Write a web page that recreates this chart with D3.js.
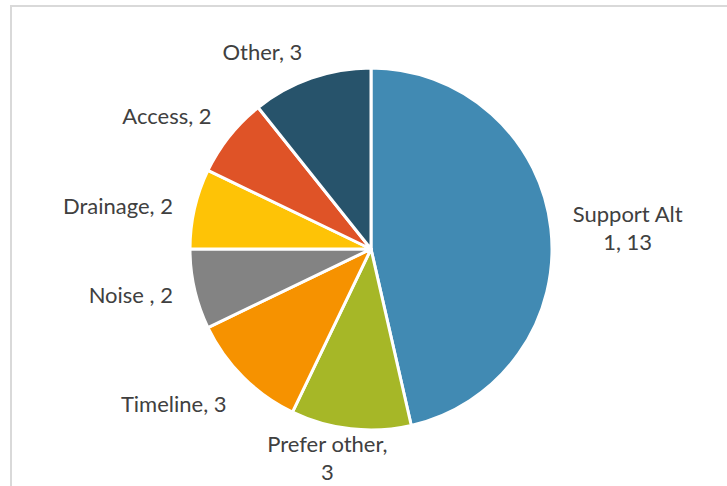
<!DOCTYPE html>
<html>
<head>
<meta charset="utf-8">
<script src="https://cdn.jsdelivr.net/npm/d3@7"></script>
<style>
  html, body { margin: 0; padding: 0; background: #fff; }
  svg { display: block; }
  text { font-family: Lato, "Open Sans", sans-serif; fill: #404040; }
</style>
</head>
<body>
<svg id="chart" width="727" height="486"></svg>
<script>
// ---- data ----
const categories = ["Support Alt 1", "Prefer other", "Timeline", "Noise ", "Drainage", "Access", "Other"];
const values = [13, 3, 3, 2, 2, 2, 3];
// data-label text as shown (line breaks as wrapped in the original)
const labels = ["Support Alt\n1, 13", "Prefer other,\n3", "Timeline, 3", "Noise , 2", "Drainage, 2", "Access, 2", "Other, 3"];
const colors = ["#418AB3", "#A6B727", "#F69200", "#838383", "#FEC306", "#DF5327", "#27536B"];

// ---- layout ----
const W = 727, H = 486;
const cx = 371, cy = 249, radius = 181;
const labelR = 200;
const pad = 3;
const fontSize = 22, lineH = 28;
const halfAbove = 8, halfBelow = 14;
const areaBottom = 486;

const svg = d3.select("#chart");

// chart border
svg.append("rect")
  .attr("x", 11).attr("y", 6)
  .attr("width", 760).attr("height", 520)
  .attr("fill", "none")
  .attr("stroke", "#D9D9D9")
  .attr("stroke-width", 2);

const data = categories.map((c, i) => ({ name: c, value: values[i], label: labels[i], color: colors[i] }));

const pie = d3.pie().value(d => d.value).sort(null);
const arcs = pie(data);
const arc = d3.arc().innerRadius(0).outerRadius(radius);

const g = svg.append("g").attr("transform", `translate(${cx},${cy})`);

g.selectAll("path.slice")
  .data(arcs)
  .join("path")
  .attr("class", "slice")
  .attr("d", arc)
  .attr("fill", d => d.data.color)
  .attr("stroke", "#fff")
  .attr("stroke-width", 3)
  .attr("stroke-linejoin", "round");

// labels
const measure = svg.append("text").attr("font-size", fontSize).attr("visibility", "hidden");
function textW(s) { measure.text(s); return measure.node().getComputedTextLength(); }

const clamp = (v, a, b) => Math.max(a, Math.min(b, v));

arcs.forEach(d => {
  const a = (d.startAngle + d.endAngle) / 2;
  const s = Math.sin(a), c = Math.cos(a);
  const px = cx + labelR * s, py = cy - labelR * c;
  const lines = d.data.label.split("\n");
  const n = lines.length;
  const w = d3.max(lines, l => textW(l));
  const fx = (1 - clamp(3 * s, -1, 1)) / 2;
  const left = px - fx * (w + 2 * pad) + pad;
  // y of the first line centre
  let y0;
  if (Math.abs(c) < 0.4) y0 = py - (n - 1) * lineH / 2 + 2;
  else if (c > 0) y0 = py - halfAbove - (n - 1) * lineH;
  else y0 = py + halfBelow;
  // keep inside the chart area
  y0 = Math.min(y0, areaBottom - halfBelow - (n - 1) * lineH);
  const t = svg.append("text")
    .attr("font-size", fontSize)
    .attr("text-anchor", "middle");
  lines.forEach((l, i) => {
    t.append("tspan")
      .attr("x", left + w / 2)
      .attr("y", y0 + lineH * i)
      .attr("dy", "0.35em")
      .text(l);
  });
});
measure.remove();
</script>
</body>
</html>
